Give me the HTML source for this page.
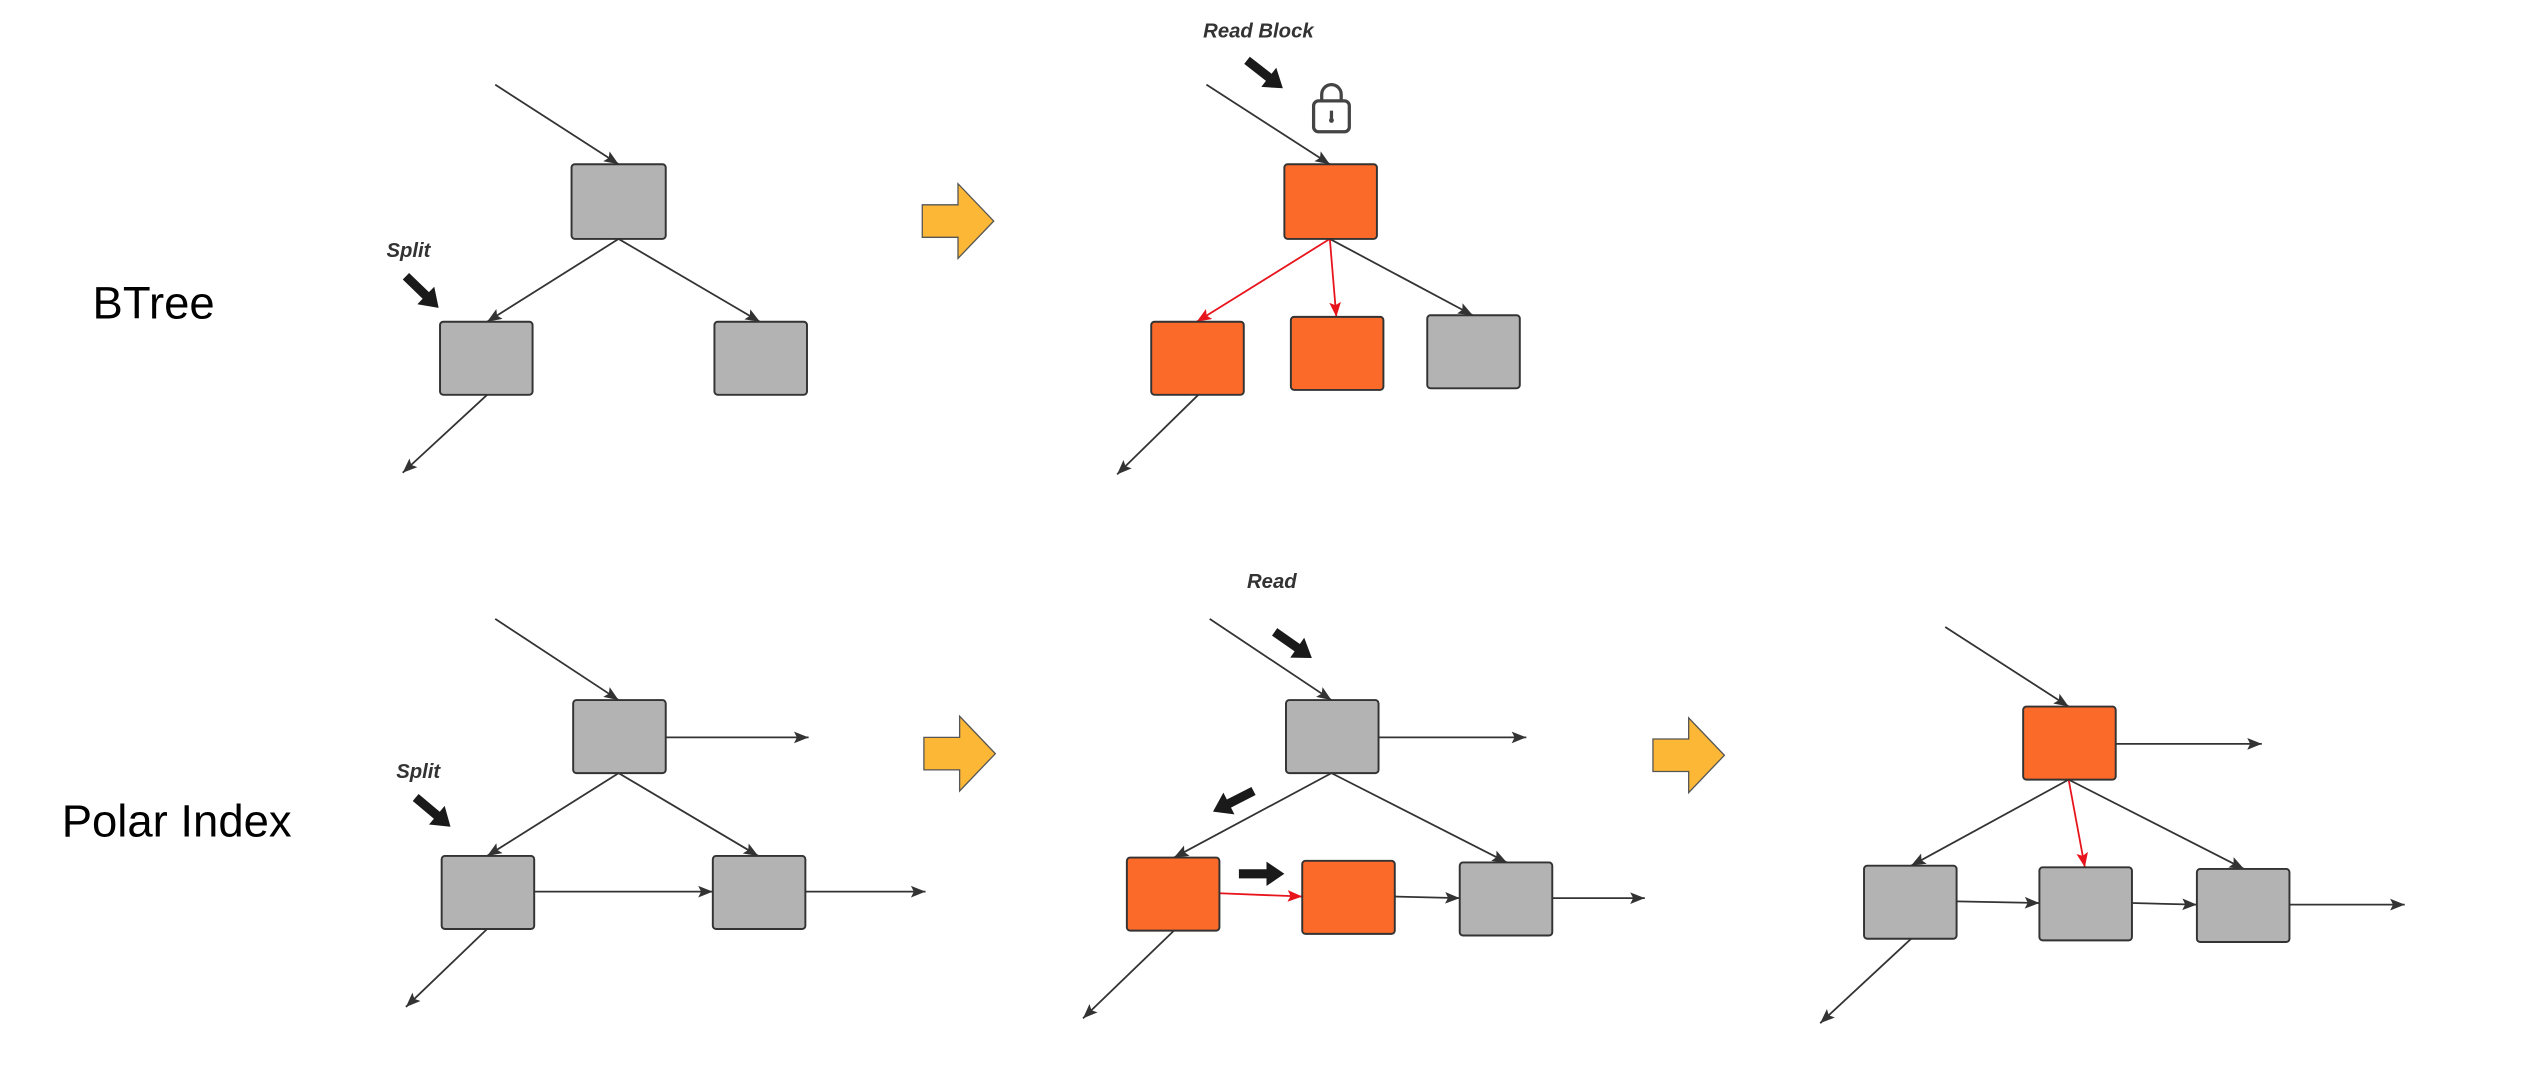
<!DOCTYPE html>
<html><head><meta charset="utf-8"><style>
html,body{margin:0;padding:0;background:#fff;}
svg{display:block;}
text{font-family:"Liberation Sans",Arial,sans-serif;}
</style></head><body>
<svg width="2546" height="1090" viewBox="0 0 1568 671" xmlns="http://www.w3.org/2000/svg">
<defs>
<marker id="ab" viewBox="0 0 10 10" refX="10" refY="5" markerWidth="9" markerHeight="9" markerUnits="userSpaceOnUse" orient="auto"><path d="M0,1 L10,5 L0,9 L2,5 z" fill="#333"/></marker>
<marker id="ar" viewBox="0 0 10 10" refX="10" refY="5" markerWidth="9" markerHeight="9" markerUnits="userSpaceOnUse" orient="auto"><path d="M0,1 L10,5 L0,9 L2,5 z" fill="#e8141c"/></marker>
<polygon id="fat" points="0,-2.8 17,-2.8 17,-7.5 28,0 17,7.5 17,2.8 0,2.8" fill="#1a1a1a"/>
<polygon id="yel" points="0,-10 22,-10 22,-23 44,0 22,23 22,10 0,10" fill="#fbb735" stroke="#555" stroke-width="0.8"/>
</defs>
<rect width="1568" height="671" fill="#fff"/>
<g fill="#000" font-size="28">
<text x="57" y="196">BTree</text>
<text x="38" y="515">Polar Index</text>
</g>
<g font-size="12.5" font-style="italic" font-weight="bold" fill="#333">
<text x="238" y="158">Split</text>
<text x="244" y="479">Split</text>
<text x="741" y="23">Read Block</text>
<text x="768" y="362">Read</text>
</g>
<g stroke="#333" stroke-width="1.1" fill="none" marker-end="url(#ab)">
<!-- row1 left -->
<line x1="305" y1="52" x2="381" y2="101"/>
<line x1="381" y1="147" x2="300" y2="198"/>
<line x1="381" y1="147" x2="468" y2="198"/>
<line x1="300" y1="243" x2="248" y2="291"/>
<!-- row1 middle -->
<line x1="743" y1="52" x2="819" y2="101"/>
<line x1="819" y1="147" x2="907" y2="194"/>
<line x1="738" y1="243" x2="688" y2="292"/>
<!-- row2 left -->
<line x1="305" y1="381" x2="381" y2="431"/>
<line x1="410" y1="454" x2="498" y2="454"/>
<line x1="381" y1="476" x2="300" y2="527"/>
<line x1="381" y1="476" x2="467" y2="527"/>
<line x1="329" y1="549" x2="439" y2="549"/>
<line x1="496" y1="549" x2="570" y2="549"/>
<line x1="300" y1="572" x2="250" y2="620"/>
<!-- row2 middle -->
<line x1="745" y1="381" x2="820" y2="431"/>
<line x1="849" y1="454" x2="940" y2="454"/>
<line x1="820" y1="476" x2="723" y2="528"/>
<line x1="820" y1="476" x2="928" y2="531"/>
<line x1="859" y1="552" x2="899" y2="553"/>
<line x1="956" y1="553" x2="1013" y2="553"/>
<line x1="723" y1="573" x2="667" y2="627"/>
<!-- row2 right -->
<line x1="1198" y1="386" x2="1274" y2="435"/>
<line x1="1303" y1="458" x2="1393" y2="458"/>
<line x1="1274" y1="480" x2="1177" y2="533"/>
<line x1="1274" y1="480" x2="1382" y2="535"/>
<line x1="1205" y1="555" x2="1256" y2="556"/>
<line x1="1313" y1="556" x2="1353" y2="557"/>
<line x1="1410" y1="557" x2="1481" y2="557"/>
<line x1="1177" y1="578" x2="1121" y2="630"/>
</g>
<g stroke="#e8141c" stroke-width="1.1" fill="none" marker-end="url(#ar)">
<line x1="819" y1="147" x2="737" y2="198"/>
<line x1="819" y1="147" x2="823" y2="195"/>
<line x1="751" y1="550" x2="802" y2="552"/>
<line x1="1274" y1="480" x2="1284" y2="534"/>
</g>
<g stroke="#333" stroke-width="1.2">
<rect x="352" y="101" width="58" height="46" rx="2" fill="#b3b3b3"/>
<rect x="271" y="198" width="57" height="45" rx="2" fill="#b3b3b3"/>
<rect x="440" y="198" width="57" height="45" rx="2" fill="#b3b3b3"/>
<rect x="791" y="101" width="57" height="46" rx="2" fill="#fc6a29"/>
<rect x="709" y="198" width="57" height="45" rx="2" fill="#fc6a29"/>
<rect x="795" y="195" width="57" height="45" rx="2" fill="#fc6a29"/>
<rect x="879" y="194" width="57" height="45" rx="2" fill="#b3b3b3"/>
<rect x="353" y="431" width="57" height="45" rx="2" fill="#b3b3b3"/>
<rect x="272" y="527" width="57" height="45" rx="2" fill="#b3b3b3"/>
<rect x="439" y="527" width="57" height="45" rx="2" fill="#b3b3b3"/>
<rect x="792" y="431" width="57" height="45" rx="2" fill="#b3b3b3"/>
<rect x="694" y="528" width="57" height="45" rx="2" fill="#fc6a29"/>
<rect x="802" y="530" width="57" height="45" rx="2" fill="#fc6a29"/>
<rect x="899" y="531" width="57" height="45" rx="2" fill="#b3b3b3"/>
<rect x="1246" y="435" width="57" height="45" rx="2" fill="#fc6a29"/>
<rect x="1148" y="533" width="57" height="45" rx="2" fill="#b3b3b3"/>
<rect x="1256" y="534" width="57" height="45" rx="2" fill="#b3b3b3"/>
<rect x="1353" y="535" width="57" height="45" rx="2" fill="#b3b3b3"/>
</g>
<!-- yellow arrows -->
<use href="#yel" transform="translate(568,136)"/>
<use href="#yel" transform="translate(569,464)"/>
<use href="#yel" transform="translate(1018,465)"/>
<!-- fat black arrows -->
<use href="#fat" transform="translate(250,170) rotate(44)"/>
<use href="#fat" transform="translate(256,491) rotate(40)"/>
<use href="#fat" transform="translate(768,37) rotate(38)"/>
<use href="#fat" transform="translate(785,389) rotate(35)"/>
<use href="#fat" transform="translate(772,487) rotate(153)"/>
<use href="#fat" transform="translate(763,538) rotate(0)"/>
<!-- lock -->
<g fill="none" stroke="#444" stroke-width="2">
<path d="M814,62 v-4 a6,6 0 0 1 12,0 v4"/>
<rect x="809" y="62" width="22" height="19" rx="3"/>
<line x1="820" y1="68" x2="820" y2="74"/>
</g>
<circle cx="820" cy="74" r="1.5" fill="#444"/>
</svg>
</body></html>
